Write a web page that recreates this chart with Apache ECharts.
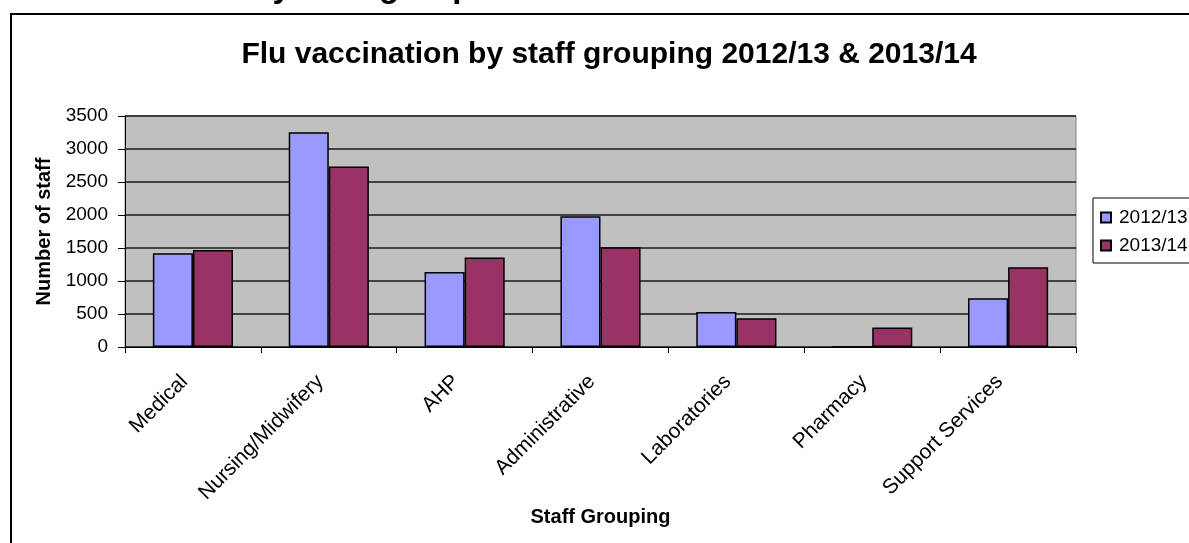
<!DOCTYPE html>
<html>
<head>
<meta charset="utf-8">
<script src="https://cdn.jsdelivr.net/npm/echarts@6/dist/echarts.min.js"></script>
<style>
html,body{margin:0;padding:0;background:#fff;}
#chart{width:1189px;height:543px;}
</style>
</head>
<body>
<div id="chart"></div>
<script>
var categories = ['Medical','Nursing/Midwifery','AHP','Administrative','Laboratories','Pharmacy','Support Services'];
var series2012 = [1420, 3255, 1135, 1980, 530, 0, 740];
var series2013 = [1470, 2735, 1355, 1510, 435, 295, 1210];
var seriesNames = ['2012/13','2013/14'];
var yTicks = {min:0, max:3500, interval:500};

var FONT = '"Liberation Sans", Arial, sans-serif';
var chart = echarts.init(document.getElementById('chart'), null, {renderer:'canvas'});
chart.setOption({
  backgroundColor:'#ffffff',
  animation:false,
  title:{
    text:'Flu vaccination by staff grouping 2012/13 & 2013/14',
    top:35, left:604, textAlign:'center',
    textStyle:{fontFamily:FONT, fontSize:30, fontWeight:'bold', color:'#000'}
  },
  legend:{
    orient:'vertical', left:1093, top:198,
    padding:[10,30,8,7],
    borderColor:'#000', borderWidth:1,
    itemWidth:10, itemHeight:10, itemGap:9,
    icon:'rect',
    textStyle:{fontFamily:FONT, fontSize:19, color:'#000', padding:[0,0,0,3], lineHeight:19},
    data:seriesNames
  },
  grid:{left:125, top:116, right:113, bottom:196, show:true, backgroundColor:'#c0c0c0', borderWidth:1, borderColor:'#808080'},
  xAxis:{
    type:'category', data:categories,
    name:'Staff Grouping', nameLocation:'middle', nameGap:160,
    nameTextStyle:{fontFamily:FONT, fontSize:20, fontWeight:'bold', color:'#000'},
    axisLine:{lineStyle:{color:'#000', width:1}},
    axisTick:{show:true, length:6, lineStyle:{color:'#000'}},
    axisLabel:{rotate:45, interval:0, fontFamily:FONT, fontSize:21, color:'#000', margin:23, padding:[0,12,14,0]}
  },
  yAxis:{
    type:'value', min:yTicks.min, max:yTicks.max, interval:yTicks.interval,
    name:'Number of staff', nameLocation:'middle', nameGap:71, nameRotate:90,
    nameTextStyle:{fontFamily:FONT, fontSize:20, fontWeight:'bold', color:'#000'},
    axisLine:{show:true, lineStyle:{color:'#000', width:1}},
    axisTick:{show:true, length:7, lineStyle:{color:'#000'}},
    axisLabel:{fontFamily:FONT, fontSize:19, color:'#000', margin:17, formatter:function(v){return String(v);}},
    splitLine:{show:true, lineStyle:{color:'#1a1a1a', width:1.5}}
  },
  series:[
    {name:seriesNames[0], type:'bar', data:series2012, barGap:'0%', barCategoryGap:'41%',
     itemStyle:{color:'#9999ff', borderColor:'#000', borderWidth:1.5}},
    {name:seriesNames[1], type:'bar', data:series2013,
     itemStyle:{color:'#993366', borderColor:'#000', borderWidth:1.5}}
  ],
  graphic:[
    {type:'rect', shape:{x:11, y:14, width:1300, height:700}, style:{fill:null, stroke:'#000', lineWidth:2}, z:-1},
    {type:'text', x:3, y:-12, style:{text:'Flu vaccination by staff group', font:'bold 33px '+FONT, fill:'#000', textAlign:'left', textVerticalAlign:'middle'}}
  ]
});
</script>
</body>
</html>
